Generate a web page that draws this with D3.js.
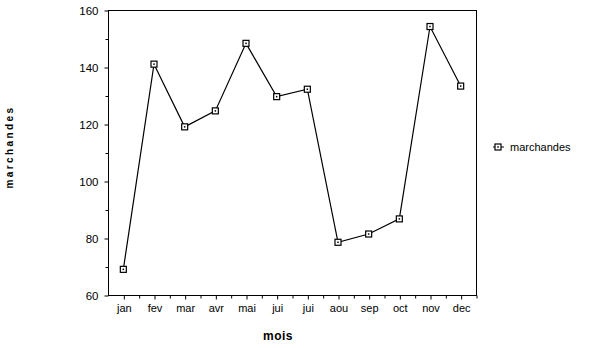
<!DOCTYPE html>
<html>
<meta charset="utf-8">
<script src="https://d3js.org/d3.v7.min.js"></script>
<style>
  body { margin: 0; background: #fff; }
  text { font-family: "Liberation Sans", Arial, sans-serif; fill: #000; }
</style>
<body>
<div id="vis"></div>
<script>

    // data
    const months = ["jan", "fev", "mar", "avr", "mai", "jui", "jui", "aou", "sep", "oct", "nov", "dec"];
    const marchandes = [69, 141, 119, 124.6, 148.3, 129.6, 132.2, 78.5, 81.4, 86.7, 154.2, 133.3];
    const yTicks = [60, 80, 100, 120, 140, 160];
    const yMinorTicks = [70, 90, 110, 130, 150];

    const total_width = 600, total_height = 348;
    const margin = {top: 10, right: 124, bottom: 53, left: 108};
    const width = total_width - margin.left - margin.right,
          height = total_height - margin.top - margin.bottom;

    const svg = d3.select("#vis")
      .append("svg")
        .attr("width", total_width)
        .attr("height", total_height)
      .append("g")
        .attr("transform", `translate(${margin.left},${margin.top})`);

    const idx = months.map((m, i) => i);

    // X scales: point for the centres, band for the minor ticks between
    const x_scale = d3.scalePoint()
      .domain(idx)
      .range([0, width])
      .padding(0.5);
    const x_band = d3.scaleLinear()
      .domain([0, months.length])
      .range([0, width]);

    const y_scale = d3.scaleLinear()
      .domain([60, 160])
      .range([height, 0]);

    // frame
    svg.append("rect")
      .attr("x", 0.5)
      .attr("y", 0.5)
      .attr("width", width)
      .attr("height", height)
      .attr("fill", "none")
      .attr("stroke", "#000")
      .attr("stroke-width", 1);

    // Y axis
    const yAxis = svg.append("g")
      .attr("transform", "translate(0.5,0.5)")
      .call(d3.axisLeft(y_scale).tickValues(yTicks).tickSize(4).tickPadding(6).tickSizeOuter(0));
    yAxis.select(".domain").remove();
    yAxis.selectAll("text").style("font-size", "11.5px").attr("dy", "0.34em");

    const yMinor = svg.append("g")
      .attr("transform", "translate(0.5,0.5)")
      .call(d3.axisLeft(y_scale).tickValues(yMinorTicks).tickSize(3).tickFormat(""));
    yMinor.select(".domain").remove();

    // X axis
    const xAxis = svg.append("g")
      .attr("transform", `translate(0.5,${height + 0.5})`)
      .call(d3.axisBottom(x_scale).tickSize(4).tickPadding(5).tickFormat(i => months[i]));
    xAxis.select(".domain").remove();
    xAxis.selectAll("text").style("font-size", "11px");

    const xMinor = svg.append("g")
      .attr("transform", `translate(0.5,${height + 0.5})`)
      .call(d3.axisBottom(x_band).tickValues(d3.range(1, months.length + 1)).tickSize(3).tickFormat(""));
    xMinor.select(".domain").remove();

    // axis titles
    svg.append("text")
      .attr("x", 170)
      .attr("y", height + 45)
      .attr("text-anchor", "middle")
      .style("font-size", "12px")
      .style("font-weight", "bold")
      .style("letter-spacing", "0.5px")
      .text("mois");

    svg.append("text")
      .attr("transform", `translate(${13 - margin.left},${137}) rotate(-90)`)
      .attr("text-anchor", "middle")
      .style("font-size", "10px")
      .style("font-weight", "bold")
      .style("letter-spacing", "2.4px")
      .text("marchandes");

    // line
    const line = d3.line()
      .x((d, i) => x_scale(i))
      .y(d => y_scale(d));

    svg.append("path")
      .datum(marchandes)
      .attr("fill", "none")
      .attr("stroke", "#000")
      .attr("stroke-width", 1.2)
      .attr("d", line);

    // square markers with a dot inside
    const marks = svg.append("g")
      .selectAll("g")
      .data(marchandes)
      .join("g")
        .attr("transform", (d, i) => `translate(${x_scale(i)},${y_scale(d)})`);
    marks.append("rect")
      .attr("x", -3)
      .attr("y", -3)
      .attr("width", 6)
      .attr("height", 6)
      .attr("fill", "#fff")
      .attr("stroke", "#000")
      .attr("stroke-width", 1.2);
    marks.append("rect")
      .attr("x", -0.75)
      .attr("y", -0.75)
      .attr("width", 1.5)
      .attr("height", 1.5)
      .attr("fill", "#000");

    // legend
    const legend = svg.append("g")
      .attr("transform", `translate(${width + 22},${137})`);
    legend.append("line")
      .attr("x1", -5).attr("x2", 6)
      .attr("stroke", "#000");
    legend.append("rect")
      .attr("x", -3).attr("y", -3)
      .attr("width", 6).attr("height", 6)
      .attr("fill", "#fff")
      .attr("stroke", "#000")
      .attr("stroke-width", 1.2);
    legend.append("rect")
      .attr("x", -0.75).attr("y", -0.75)
      .attr("width", 1.5).attr("height", 1.5)
      .attr("fill", "#000");
    legend.append("text")
      .attr("x", 12)
      .attr("dy", "0.35em")
      .style("font-size", "11px")
      .text("marchandes");

</script>
</body>
</html>
